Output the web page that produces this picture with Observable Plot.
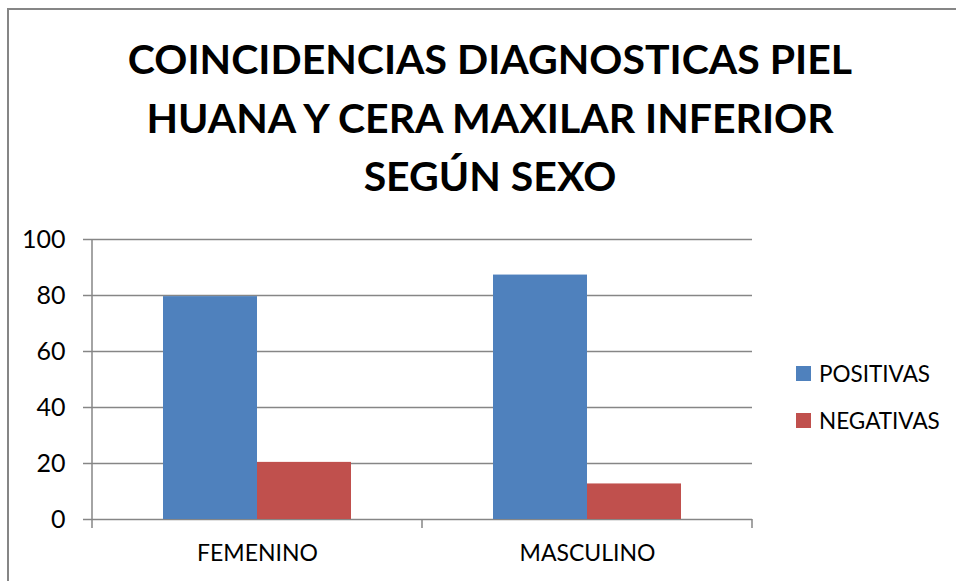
<!DOCTYPE html>
<html><head><meta charset="utf-8">
<script src="https://cdn.jsdelivr.net/npm/d3@7"></script>
<script src="https://cdn.jsdelivr.net/npm/@observablehq/plot@0.6"></script>
<style>
html,body{margin:0;padding:0;background:#fff;}
body{width:956px;height:581px;overflow:hidden;position:relative;font-family:Lato,"Open Sans",sans-serif;color:#000}
#frame{position:absolute;left:7px;top:8px;width:1100px;height:700px;border-left:2px solid #868686;border-top:2px solid #868686;box-sizing:border-box}
#title{position:absolute;left:0;width:980px;top:30px;text-align:center;font-weight:bold;font-size:41px;line-height:58.5px}
#chart{position:absolute;left:0;top:215px}
#legend{position:absolute;left:796px;top:358px;font-size:22.5px}
#legend .row{display:flex;align-items:center;height:30px;margin-bottom:17px}
#legend .sw{display:inline-block;width:15px;height:15px;margin-right:8px}
</style></head><body>
<div id="frame"></div>
<div id="title">COINCIDENCIAS DIAGNOSTICAS PIEL<br>HUANA Y CERA MAXILAR INFERIOR<br>SEGÚN SEXO</div>
<div id="chart"></div>
<div id="legend"></div>
<script>
const categories = ["FEMENINO", "MASCULINO"];
const series = ["POSITIVAS", "NEGATIVAS"];
const positivas = [79.6, 87.3];
const negativas = [20.4, 12.7];
const colors = ["#4F81BD", "#C0504D"];
const yTicks = [0, 20, 40, 60, 80, 100];

const data = categories.flatMap((c, i) => [
  {sexo: c, serie: series[0], valor: positivas[i]},
  {sexo: c, serie: series[1], valor: negativas[i]}
]);

const gray = "#868686";
const plot = Plot.plot({
  width: 956, height: 366,
  marginTop: 24, marginBottom: 62, marginLeft: 91, marginRight: 204,
  style: {fontFamily: "Lato, 'Open Sans', sans-serif", fontSize: "23px", color: "#000", background: "transparent", overflow: "visible"},
  fx: {domain: categories, padding: 0, label: null},
  x: {domain: series, paddingInner: 0, paddingOuter: 0.75, axis: null},
  y: {domain: [0, 100], label: null},
  color: {domain: series, range: colors},
  marks: [
    Plot.gridY(yTicks, {stroke: gray, strokeOpacity: 1, strokeWidth: 1.5}),
    Plot.axisY(yTicks, {tickSize: 9, tickPadding: 18, stroke: gray, strokeWidth: 1.5, fill: "#000", fontSize: 25, label: null}),
    Plot.axisFx({anchor: "bottom", tickSize: 0, tickPadding: 25, fill: "#000", label: null}),
    Plot.barY(data, {fx: "sexo", x: "serie", y: "valor", fill: "serie"})
  ]
});
document.getElementById("chart").appendChild(plot);

// vertical axis line and category boundary ticks, placed with the plot's own scales
try {
  const fxs = plot.scale("fx"), ys = plot.scale("y");
  const y0 = ys.apply(0), y100 = ys.apply(100);
  const edges = [];
  categories.forEach(c => { const a = fxs.apply(c); edges.push(a, a + fxs.bandwidth); });
  const uniq = Array.from(new Set(edges.map(e => Math.round(e * 10) / 10)));
  const g = d3.select(plot).append("g").attr("stroke", gray).attr("stroke-width", 1.5);
  g.append("line").attr("x1", uniq[0]).attr("x2", uniq[0]).attr("y1", y100).attr("y2", y0 + 9);
  uniq.slice(1).forEach(e => g.append("line").attr("x1", e).attr("x2", e).attr("y1", y0).attr("y2", y0 + 9));
} catch (e) { console.error(e); }

const legend = d3.select("#legend");
series.forEach((s, i) => {
  const row = legend.append("div").attr("class", "row");
  row.append("span").attr("class", "sw").style("background", colors[i]);
  row.append("span").text(s);
});
</script>
</body></html>
